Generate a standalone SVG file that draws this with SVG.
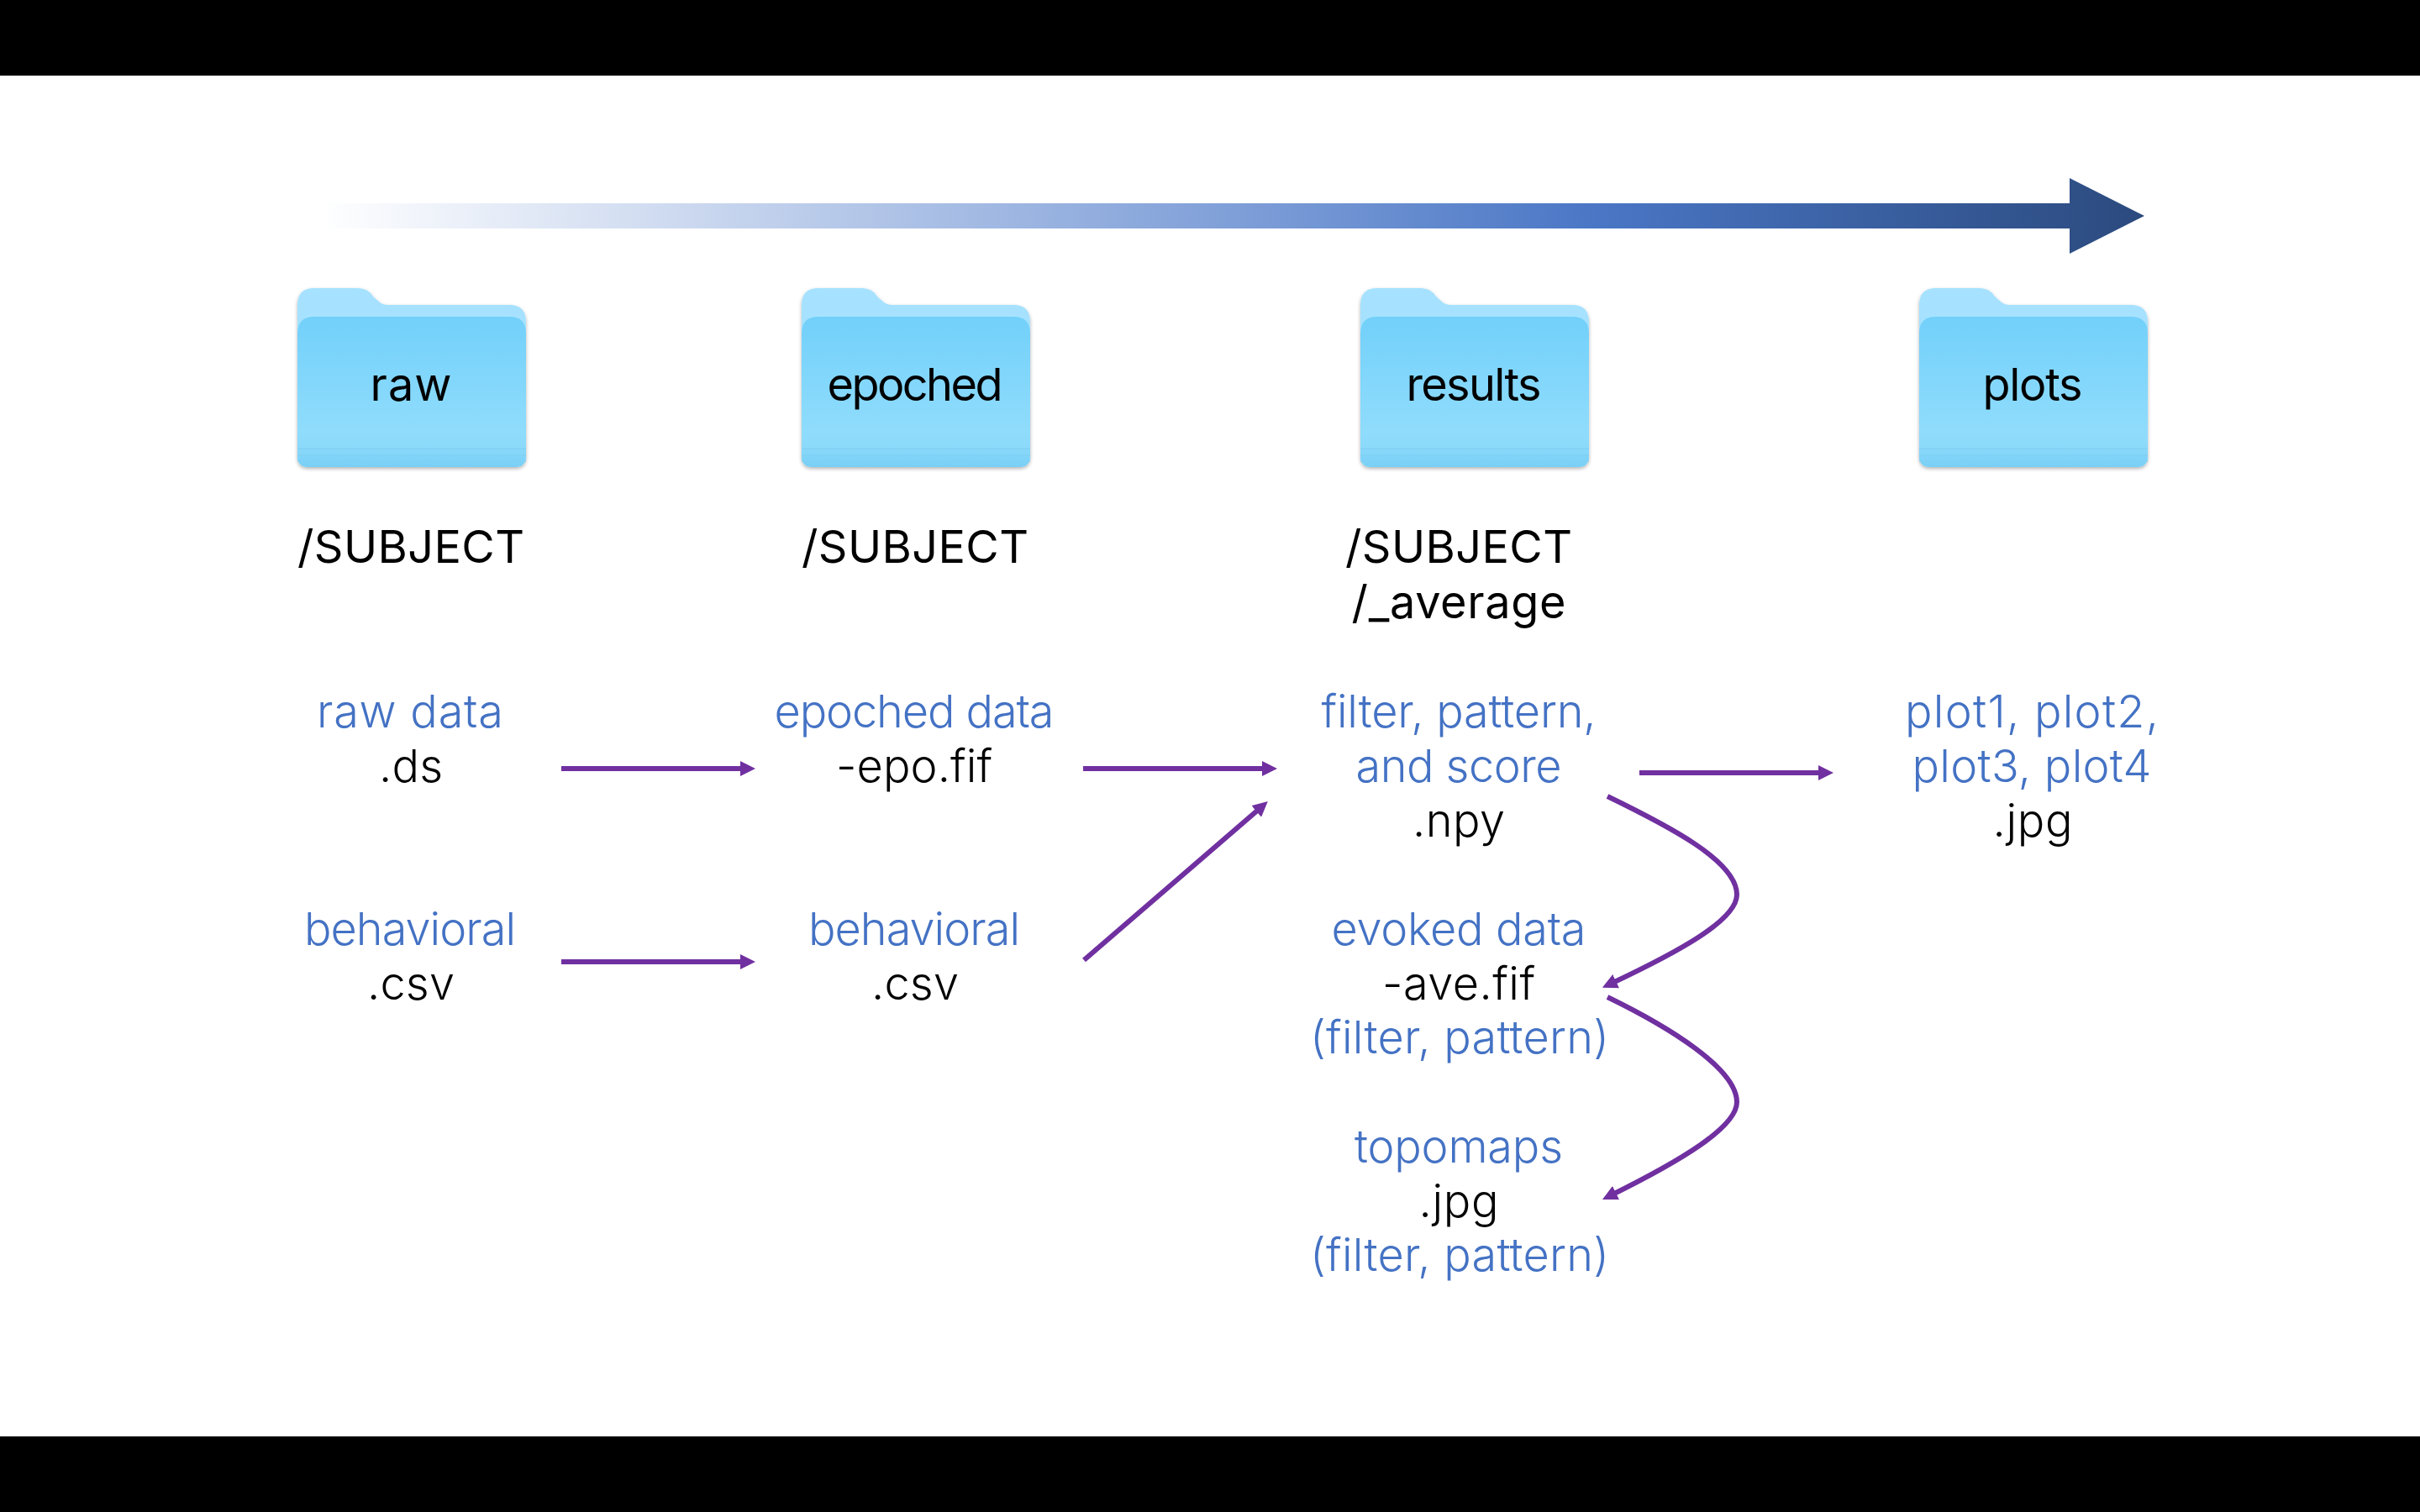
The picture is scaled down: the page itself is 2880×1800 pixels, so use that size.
<svg xmlns="http://www.w3.org/2000/svg" width="2880" height="1800" viewBox="0 0 2880 1800">
<defs>
<linearGradient id="bar" x1="380" x2="2552" y1="0" y2="0" gradientUnits="userSpaceOnUse"><stop offset="0" stop-color="#ffffff"/><stop offset="0.5" stop-color="#7f9fd8"/><stop offset="0.7" stop-color="#4a76c5"/><stop offset="1" stop-color="#2b4a7e"/></linearGradient>
<linearGradient id="front" x1="0" x2="0" y1="0" y2="1"><stop offset="0" stop-color="#72d0fa"/><stop offset="0.75" stop-color="#8fdcfc"/><stop offset="0.88" stop-color="#8cdafb"/><stop offset="1" stop-color="#78cff5"/></linearGradient>
<filter id="sh" x="-5%" y="-5%" width="110%" height="110%"><feDropShadow dx="0" dy="2" stdDeviation="2" flood-color="#000" flood-opacity="0.3"/></filter>
<marker id="ah" viewBox="0 0 18 18" refX="9" refY="9" markerUnits="userSpaceOnUse" markerWidth="18" markerHeight="18" orient="auto"><path d="M0 0L18 9L0 18Z" fill="#7030a0"/></marker>
<g id="folder">
<path d="M0 20Q0 0 20 0H72Q84 0 90 10L98 17Q102 20 108 20H252Q272 20 272 40V200Q272 213 259 213H13Q0 213 0 200Z" fill="#a6e2ff" filter="url(#sh)"/>
<path d="M0 54Q0 34 20 34H252Q272 34 272 54V200Q272 213 259 213H13Q0 213 0 200Z" fill="url(#front)"/>
<path d="M0 199V191H272V199Z" fill="#7fd3f8" opacity=".25"/>
<path d="M0 206V199H272V206Z" fill="#7fd3f8" opacity=".45"/>
<path d="M0 191H272M0 199H272M0 206H272" stroke="#7ecdf2" stroke-width="1" fill="none"/>
</g>
</defs>
<style>
text{font-family:"Inter","Noto Sans",sans-serif;font-size:54px;text-anchor:middle;font-weight:400}
.b{fill:#4472c4;font-weight:300}.k{fill:#000;font-weight:300}.h{fill:#000;font-weight:400}
.c{fill:none;stroke:#7030a0;stroke-width:6;marker-end:url(#ah)}
</style>
<rect width="2880" height="1800" fill="#fff"/>
<rect width="2880" height="90" fill="#000"/>
<rect y="1710" width="2880" height="90" fill="#000"/>
<path id="timeline" d="M390 242H2463V212L2552 257L2463 302V272H390Z" fill="url(#bar)"/>
<g id="raw"><use href="#folder" x="354" y="343"/><text class="h" x="489" y="477" textLength="97">raw</text><text class="h" x="489" y="670" textLength="270">/SUBJECT</text></g>
<g id="epoched"><use href="#folder" x="954" y="343"/><text class="h" x="1089" y="477" textLength="209">epoched</text><text class="h" x="1089" y="670" textLength="270">/SUBJECT</text></g>
<g id="results"><use href="#folder" x="1619" y="343"/><text class="h" x="1754" y="477" textLength="161">results</text><text class="h" x="1736" y="670" textLength="270">/SUBJECT</text><text class="h" x="1736" y="736" textLength="255">/_average</text></g>
<g id="plots"><use href="#folder" x="2284" y="343"/><text class="h" x="2419" y="477" textLength="119">plots</text></g>
<g id="n-raw"><text class="b" x="488" y="866" textLength="222">raw data</text><text class="k" x="489" y="931" textLength="76">.ds</text></g>
<g id="n-beh1"><text class="b" x="488" y="1125" textLength="252">behavioral</text><text class="k" x="489" y="1190" textLength="104">.csv</text></g>
<g id="n-epo"><text class="b" x="1088" y="866" textLength="333">epoched data</text><text class="k" x="1088" y="931" textLength="186">-epo.fif</text></g>
<g id="n-beh2"><text class="b" x="1088" y="1125" textLength="252">behavioral</text><text class="k" x="1089" y="1190" textLength="104">.csv</text></g>
<g id="n-filter"><text class="b" x="1736" y="866" textLength="327">filter, pattern,</text><text class="b" x="1736" y="931" textLength="245">and score</text><text class="k" x="1736" y="996" textLength="110">.npy</text></g>
<g id="n-evoked"><text class="b" x="1736" y="1125" textLength="303">evoked data</text><text class="k" x="1736" y="1190" textLength="182">-ave.fif</text><text class="b" x="1737" y="1254" textLength="356">(filter, pattern)</text></g>
<g id="n-topo"><text class="b" x="1736" y="1384" textLength="248">topomaps</text><text class="k" x="1736" y="1449" textLength="95">.jpg</text><text class="b" x="1737" y="1513" textLength="356">(filter, pattern)</text></g>
<g id="n-plot"><text class="b" x="2418" y="866" textLength="302">plot1, plot2,</text><text class="b" x="2418" y="931" textLength="285">plot3, plot4</text><text class="k" x="2419" y="996" textLength="95">.jpg</text></g>
<g id="connectors">
<path class="c" d="M668 915H890"/>
<path class="c" d="M668 1145H890"/>
<path class="c" d="M1289 915H1511"/>
<path class="c" d="M1290 1143L1502 960"/>
<path class="c" d="M1951 920H2173"/>
<path class="c" d="M1913 948C1985 983 2067 1025 2067 1065C2067 1095 2000 1132 1915 1172"/>
<path class="c" d="M1913 1187C1985 1222 2067 1272 2067 1312C2067 1342 2000 1382 1915 1424"/>
</g>
</svg>
